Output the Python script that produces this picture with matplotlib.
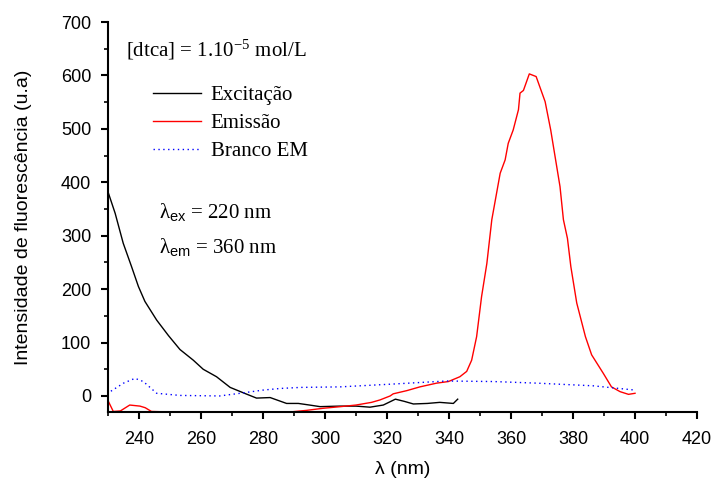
import matplotlib
matplotlib.use("Agg")
from matplotlib import pyplot as plt
from matplotlib.ticker import MultipleLocator

# excitation spectrum (black)
exc_x = [229.6, 232.3, 234.9, 237.6, 239.8, 241.9, 245.7, 249.5, 253.2, 257.5, 260.7, 265, 269.4,
         273.6, 277.9, 282.3, 287.6, 291.4, 295, 298.4, 304.8, 310, 314.5, 318.8, 322.7, 325.5,
         328.5, 333, 337, 341.4, 342.8]
exc_y = [389, 342, 286, 242, 205, 177, 142, 113, 87, 67, 50, 36, 16,
         6, -4, -3, -14, -14, -17, -20, -19, -19, -21, -17, -6, -10,
         -15, -14, -12, -14, -6]

# emission spectrum (red)
em_x = [229.6, 231.7, 234, 237, 240.3, 242, 244, 250, 270, 288.7, 294, 299.5, 305, 310, 315,
        317.7, 321, 322, 326.4, 330.6, 336, 339.8, 343.5, 345.7, 347.3, 348.9, 350.5, 352.2,
        353.8, 356.5, 358.1, 359.1, 360.7, 362.4, 362.9, 364, 365.9, 368.1, 371, 372.8, 375.8,
        376.9, 378.2, 379.3, 381.2, 384, 386, 389.8, 392.4, 395.2, 397.9, 400]
em_y = [-4, -29, -28, -17, -19, -22, -29, -30, -30, -30, -27, -23, -20, -17, -12,
        -7.5, 0, 4, 10, 17, 24, 27, 36, 46, 67, 111, 186, 248,
        330, 417, 442, 473, 498, 536, 567, 572, 603, 598, 551, 498, 392,
        330, 295, 242, 174, 111, 77, 42, 17, 8, 3, 5]

# blank (blue dotted)
bl_x = [229.6, 235, 238.7, 241.4, 245.7, 253.2, 266, 272.6, 280, 285.5, 292, 304.8, 321, 339.2,
        354.3, 368.3, 386.5, 400]
bl_y = [4, 24, 33, 27, 5, 1, 0, 5, 11, 14, 16, 17, 22, 28, 27, 24, 19, 11]

plt.rcParams['mathtext.fontset'] = 'custom'
plt.rcParams['mathtext.rm'] = 'Liberation Serif'
plt.rcParams['mathtext.it'] = 'Liberation Serif'
plt.rcParams['mathtext.sf'] = 'Liberation Sans'

fig = plt.figure(figsize=(7.13, 4.8), dpi=100)
ax = fig.add_axes([0.1515, 0.1417, 0.8261, 0.8123])

ax.plot(exc_x, exc_y, color='black', lw=1)
ax.plot(em_x, em_y, color='red', lw=1)
ax.plot(bl_x, bl_y, color='blue', lw=1, ls=(0, (1, 2.5)))

ax.set_xlim(230, 420)
ax.set_ylim(-30, 700)
ax.xaxis.set_major_locator(MultipleLocator(20))
ax.xaxis.set_minor_locator(MultipleLocator(10))
ax.yaxis.set_major_locator(MultipleLocator(100))
ax.yaxis.set_minor_locator(MultipleLocator(50))
ax.spines['top'].set_visible(False)
ax.spines['right'].set_visible(False)
ax.spines['left'].set_linewidth(1.5)
ax.spines['bottom'].set_linewidth(1.5)
ax.tick_params(which='major', direction='out', length=5, width=1.5, labelsize=13)
ax.tick_params(axis='x', which='major', pad=9)
ax.tick_params(axis='y', which='major', pad=7)
ax.tick_params(which='minor', direction='out', length=3, width=1.2)
for lab in ax.get_xticklabels() + ax.get_yticklabels():
    lab.set_fontfamily('Liberation Sans')

ax.set_xlabel('λ (nm)', fontsize=14, family='Liberation Sans', labelpad=9)
ax.set_ylabel('Intensidade de fluorescência (u.a)', fontsize=14, family='Liberation Sans',
              labelpad=21)

fig.text(126 / 713, 1 - 50 / 480, r'[dtca] = 1.10$^{-5}$ mol/L', fontsize=15,
         family='Liberation Serif', va='center', ha='left')

leg = ax.legend(['Excitação', 'Emissão', 'Branco EM'], loc='upper left',
                bbox_to_anchor=(0.045, 0.885), frameon=False,
                prop={'family': 'Liberation Serif', 'size': 15},
                handlelength=2.3, handletextpad=0.45, labelspacing=0.4)

ax.text(0.086, 0.513, r'$\lambda_{\mathsf{ex}}$ = 220 nm', transform=ax.transAxes,
        fontsize=15, family='Liberation Serif', va='center')
ax.text(0.086, 0.423, r'$\lambda_{\mathsf{em}}$ = 360 nm', transform=ax.transAxes,
        fontsize=15, family='Liberation Serif', va='center')

fig.savefig('out.png', dpi=100)
